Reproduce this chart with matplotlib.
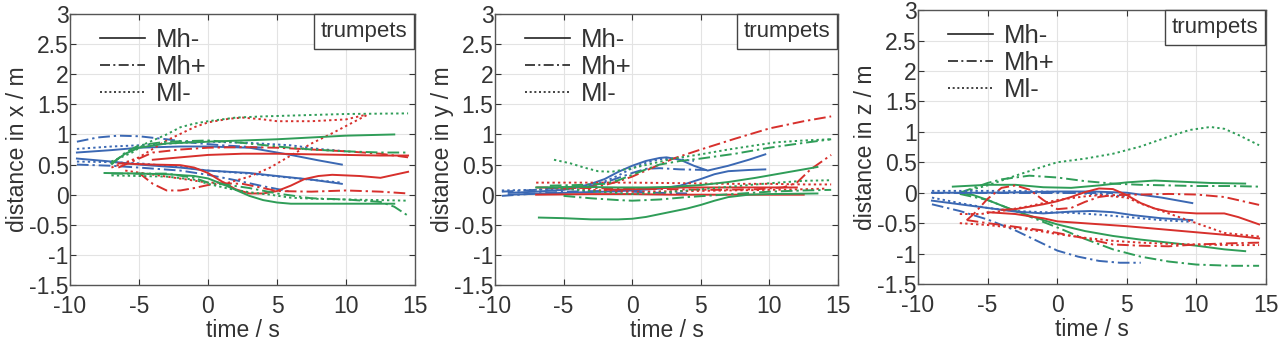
import matplotlib
matplotlib.use("Agg")
import matplotlib.pyplot as plt
from matplotlib.lines import Line2D

plt.rcParams['font.family'] = ['Liberation Sans', 'DejaVu Sans']
plt.rcParams['axes.unicode_minus'] = False

# condition labels and players
conditions = ['Mh-', 'Mh+', 'Ml-']
players = ['p1', 'p2', 'p3']

# each entry: (player, condition, time in s, distance in m)
x_series = [
    ('p3', 'Mh-', [-9.5, -7, -5, -2, 0, 3, 6, 8, 9.7], [0.70, 0.74, 0.78, 0.80, 0.80, 0.78, 0.66, 0.57, 0.50]),
    ('p3', 'Mh-', [-9.5, -7, -5, -2, 0, 3, 5, 7.5, 9.7], [0.60, 0.55, 0.50, 0.45, 0.40, 0.36, 0.31, 0.25, 0.18]),
    ('p3', 'Mh+', [-9.5, -8, -6.5, -5, -3, -1, 1, 4], [0.88, 0.95, 0.98, 0.97, 0.92, 0.86, 0.82, 0.78]),
    ('p3', 'Mh+', [-9.5, -7, -5, -2, 0, 2, 4, 6], [0.50, 0.48, 0.45, 0.40, 0.33, 0.24, 0.14, 0.05]),
    ('p3', 'Ml-', [-9.5, -7, -5, -2, 0, 3, 6, 8, 10], [0.76, 0.80, 0.82, 0.86, 0.88, 0.86, 0.82, 0.76, 0.72]),
    ('p3', 'Ml-', [-9.5, -7, -5, -2, 0, 3, 6, 9.7], [0.55, 0.54, 0.52, 0.46, 0.40, 0.35, 0.28, 0.20]),
    ('p1', 'Mh-', [-4, -2, 0, 2.5, 5, 7.5, 10, 12.5, 14.5], [0.58, 0.62, 0.66, 0.68, 0.68, 0.67, 0.66, 0.65, 0.65]),
    ('p1', 'Mh-', [-6.5, -4, -2, -1, 0, 1, 2, 3, 4, 5, 6, 7, 8, 9, 11, 12.5, 14.5],
     [0.52, 0.50, 0.49, 0.45, 0.36, 0.22, 0.09, 0.02, 0.02, 0.06, 0.15, 0.26, 0.31, 0.33, 0.31, 0.28, 0.38]),
    ('p1', 'Mh+', [-5, -4, -3, -2, -1, 0, 1, 2.5, 4, 5, 7.5, 10, 12.5, 14.5],
     [0.36, 0.18, 0.07, 0.07, 0.11, 0.16, 0.19, 0.18, 0.11, 0.06, 0.05, 0.07, 0.05, 0.02]),
    ('p1', 'Mh+', [-6.5, -5, -4, -2, 0, 2.5, 5, 7.5, 10, 12.5, 14.5], [0.45, 0.60, 0.70, 0.75, 0.78, 0.79, 0.78, 0.75, 0.72, 0.68, 0.62]),
    ('p1', 'Ml-', [-7, -5, -3, -1, 0, 1.5, 2.5, 4, 5, 7.5, 10, 11.5],
     [0.45, 0.62, 0.90, 1.12, 1.20, 1.26, 1.28, 1.25, 1.22, 1.22, 1.25, 1.33]),
    ('p1', 'Ml-', [-6, -3, 0, 1.5, 3, 4.5, 6, 7.5, 9, 10.5, 11.5],
     [0.40, 0.30, 0.20, 0.20, 0.30, 0.45, 0.65, 0.85, 1.02, 1.20, 1.32]),
    ('p2', 'Mh-', [-7, -6, -5, -3, 0, 2.5, 5, 7.5, 10, 13.5], [0.52, 0.68, 0.78, 0.85, 0.88, 0.90, 0.92, 0.95, 0.98, 1.00]),
    ('p2', 'Mh-', [-7.5, -5, -3, -1, 0, 1, 2, 3, 4, 5, 6, 8, 10, 13.5],
     [0.36, 0.35, 0.34, 0.31, 0.27, 0.18, 0.08, -0.02, -0.09, -0.13, -0.15, -0.15, -0.15, -0.15]),
    ('p2', 'Mh+', [-7, -6, -5, -3, 0, 2.5, 5, 7.5, 10, 12.5, 14.5], [0.50, 0.70, 0.82, 0.88, 0.90, 0.86, 0.80, 0.75, 0.72, 0.70, 0.70]),
    ('p2', 'Mh+', [-7, -5, -3, -1, 0, 1.5, 3, 5, 7.5, 10, 12.5, 13.5, 14.5],
     [0.35, 0.35, 0.35, 0.28, 0.20, 0.16, 0.11, 0.02, -0.06, -0.08, -0.12, -0.20, -0.35]),
    ('p2', 'Ml-', [-7, -5.5, -4.5, -3, -2, -1, 0, 2, 4, 7, 10, 14.5],
     [0.55, 0.70, 0.85, 1.00, 1.12, 1.18, 1.22, 1.28, 1.30, 1.32, 1.34, 1.35]),
    ('p2', 'Ml-', [-7, -5, -3, -1, 0, 1.5, 3, 4.5, 6, 8, 10, 12.5, 14.5],
     [0.32, 0.31, 0.30, 0.25, 0.18, 0.10, 0.04, 0.00, -0.05, -0.07, -0.08, -0.09, -0.10]),
]

y_series = [
    ('p3', 'Mh-', [-9, -7, -5, -4, -3, -2, -1, 0, 1, 2, 2.5, 3.5, 4.5, 5.5, 7, 8.5, 9.7],
     [0.03, 0.05, 0.08, 0.12, 0.18, 0.26, 0.38, 0.48, 0.56, 0.61, 0.62, 0.58, 0.48, 0.40, 0.48, 0.58, 0.67]),
    ('p3', 'Mh-', [-9, -5, -2, 0, 2, 3.5, 5, 6, 7, 8.5, 9.7], [0.00, 0.03, 0.05, 0.07, 0.10, 0.15, 0.26, 0.34, 0.39, 0.41, 0.42]),
    ('p3', 'Mh+', [-9.5, -7, -5, -3, -2, -1, 0, 1, 2, 3.5, 5.5], [0.05, 0.08, 0.12, 0.15, 0.20, 0.28, 0.36, 0.43, 0.44, 0.42, 0.41]),
    ('p3', 'Mh+', [-9.5, -7, -5, -2.5, 0, 2, 4], [-0.02, 0.02, 0.05, 0.06, 0.05, 0.03, 0.02]),
    ('p3', 'Ml-', [-9.5, -7, -5, -3, -2, -1, 0, 1, 2, 3, 4.5], [0.07, 0.08, 0.10, 0.16, 0.22, 0.32, 0.44, 0.53, 0.59, 0.60, 0.56]),
    ('p1', 'Mh+', [-5, -3, -2, -1, 0, 1.5, 3, 5, 7.5, 10, 12.5, 14.5], [0.10, 0.13, 0.16, 0.22, 0.30, 0.45, 0.60, 0.75, 0.93, 1.10, 1.22, 1.30]),
    ('p1', 'Mh+', [-7, -3, 0, 3, 6, 9, 11, 12, 13, 14.5], [0.12, 0.11, 0.10, 0.09, 0.08, 0.09, 0.12, 0.20, 0.42, 0.66]),
    ('p1', 'Mh-', [-7, -3, 0, 3, 6, 9, 12.5], [0.00, 0.01, 0.01, 0.00, 0.00, 0.00, 0.00]),
    ('p1', 'Mh-', [-2, 0, 2, 4, 6, 8, 10, 12], [0.08, 0.09, 0.11, 0.12, 0.12, 0.12, 0.12, 0.12]),
    ('p1', 'Ml-', [-7, -4, 0, 4, 7, 10, 12.5, 14.5], [0.20, 0.20, 0.20, 0.19, 0.18, 0.18, 0.17, 0.17]),
    ('p1', 'Ml-', [-6, -3, 0, 4, 7, 10, 12.5, 14], [0.11, 0.08, 0.05, 0.06, 0.07, 0.08, 0.09, 0.10]),
    ('p2', 'Mh-', [-6.8, -5, -3, -1, 0, 1, 2.5, 4, 5, 6, 7, 8.5, 10, 13.5],
     [-0.38, -0.39, -0.41, -0.41, -0.40, -0.37, -0.30, -0.23, -0.17, -0.10, -0.04, 0.00, 0.01, 0.02]),
    ('p2', 'Mh-', [-7, -4, -1, 1, 3, 5, 7, 9, 11, 13.5], [0.12, 0.13, 0.12, 0.12, 0.13, 0.16, 0.21, 0.28, 0.36, 0.46]),
    ('p2', 'Mh+', [-6, -4, -2, -1, 0, 1, 2, 3.5, 5, 7.5, 10, 12.5, 14.5], [0.15, 0.16, 0.18, 0.24, 0.33, 0.42, 0.50, 0.56, 0.60, 0.68, 0.78, 0.86, 0.92]),
    ('p2', 'Mh+', [-5, -3, -1, 0, 2, 4, 6, 8, 10, 12.5, 14.5], [-0.02, -0.06, -0.09, -0.10, -0.08, -0.04, -0.01, 0.02, 0.05, 0.07, 0.08]),
    ('p2', 'Ml-', [-5.7, -4.5, -3.5, -2.5, -1.5, 0, 1.5, 3, 5, 7, 9, 10.5, 12.5, 14.5],
     [0.58, 0.52, 0.45, 0.39, 0.38, 0.44, 0.52, 0.60, 0.67, 0.75, 0.82, 0.87, 0.90, 0.92]),
    ('p2', 'Ml-', [-6, -3, 0, 2.5, 5, 7.5, 10, 12.5, 14.5], [0.12, 0.06, 0.01, 0.04, 0.09, 0.14, 0.19, 0.23, 0.24]),
]

z_series = [
    ('p2', 'Ml-', [-7, -5, -3, -1, 0, 2, 4, 6, 8, 9.5, 11, 12, 13, 14.5],
     [0.00, 0.12, 0.28, 0.43, 0.50, 0.56, 0.64, 0.76, 0.92, 1.03, 1.08, 1.05, 0.95, 0.78]),
    ('p2', 'Mh+', [-7, -6, -5, -4, -2, 0, 2, 4, 6, 8, 10, 12.5, 14.5],
     [0.00, 0.08, 0.16, 0.22, 0.28, 0.25, 0.19, 0.15, 0.13, 0.12, 0.11, 0.11, 0.10]),
    ('p2', 'Mh-', [-7.5, -5, -3, -1, 1, 3, 5, 7, 9, 11, 13.5], [0.10, 0.13, 0.13, 0.09, 0.08, 0.12, 0.17, 0.20, 0.18, 0.16, 0.15]),
    ('p2', 'Mh-', [-7, -6, -5, -3, -1, 0, 2, 4, 6, 8, 10, 12, 13.5],
     [0.00, -0.04, -0.12, -0.30, -0.45, -0.52, -0.63, -0.71, -0.77, -0.82, -0.87, -0.93, -0.96]),
    ('p2', 'Mh+', [-7, -5, -3, -1, 0, 2, 4, 6, 8, 10, 12.5, 14.5],
     [-0.02, -0.12, -0.30, -0.48, -0.57, -0.76, -0.93, -1.05, -1.13, -1.18, -1.20, -1.20]),
    ('p3', 'Mh-', [-9, -7, -5, -2, 0, 2.5, 5, 7.5, 9.7], [0.00, 0.00, 0.00, 0.01, 0.02, 0.02, 0.00, -0.08, -0.17]),
    ('p3', 'Mh-', [-9, -7, -5, -3, -1, 1, 2.5, 4, 5.5, 7.5, 9.7], [-0.13, -0.19, -0.25, -0.31, -0.34, -0.31, -0.30, -0.32, -0.37, -0.42, -0.45]),
    ('p3', 'Mh+', [-9, -7, -5, -3, -1, 0, 1.5, 3, 4.5, 6], [-0.19, -0.30, -0.44, -0.62, -0.84, -0.95, -1.05, -1.12, -1.15, -1.15]),
    ('p3', 'Mh+', [-9, -6, -3, 0, 2, 4], [0.00, 0.00, 0.00, 0.00, 0.00, 0.00]),
    ('p3', 'Ml-', [-9, -6, -3, -1, 1, 3, 5], [0.03, 0.03, 0.03, 0.02, 0.00, -0.03, -0.06]),
    ('p3', 'Ml-', [-9, -7, -5, -3, -1, 1, 3, 5, 7.5, 9.7], [-0.08, -0.17, -0.25, -0.30, -0.32, -0.33, -0.36, -0.40, -0.45, -0.48]),
    ('p1', 'Mh-', [-4, -3, -2, -1, 0, 1, 2, 3, 4, 5, 6, 7, 8, 10, 12, 13, 14.5],
     [-0.28, -0.27, -0.23, -0.19, -0.14, -0.07, 0.01, 0.07, 0.06, -0.04, -0.17, -0.26, -0.31, -0.34, -0.34, -0.40, -0.52]),
    ('p1', 'Mh-', [-5, -3, -1, 0, 2.5, 5, 7.5, 10, 12.5, 14.5], [-0.32, -0.35, -0.42, -0.47, -0.51, -0.55, -0.60, -0.65, -0.70, -0.75]),
    ('p1', 'Mh+', [-6.5, -6, -5, -4, -3, -2, -1, 0, 1, 2, 3, 4, 6, 8, 10, 12, 14.5],
     [-0.45, -0.35, -0.10, 0.08, 0.12, 0.05, -0.12, -0.27, -0.25, -0.15, -0.07, -0.04, -0.03, -0.02, -0.03, -0.07, -0.20]),
    ('p1', 'Mh+', [-6.5, -5, -3, -1, 0, 2, 4, 6, 8, 10, 12.5, 14.5], [-0.45, -0.50, -0.56, -0.62, -0.66, -0.75, -0.85, -0.87, -0.88, -0.85, -0.83, -0.82]),
    ('p1', 'Ml-', [-7, -5.5, -4, -2, 0, 2, 3, 5, 6, 7.5, 9, 10, 11, 12, 14.5],
     [-0.35, -0.35, -0.30, -0.22, -0.12, -0.06, -0.04, -0.08, -0.18, -0.30, -0.42, -0.50, -0.58, -0.66, -0.72]),
    ('p1', 'Ml-', [-7, -5, -3, -1, 0, 2, 4, 6, 8, 10, 12.5, 14.5], [-0.50, -0.53, -0.58, -0.64, -0.68, -0.74, -0.79, -0.82, -0.84, -0.85, -0.86, -0.86]),
]

x_ticks = [-10, -5, 0, 5, 10, 15]
y_ticks = [-1.5, -1, -0.5, 0, 0.5, 1, 1.5, 2, 2.5, 3]
y_tick_labels = ['-1.5', '-1', '-0.5', '0', '0.5', '1', '1.5', '2', '2.5', '3']

colours = {'p1': '#d7302c', 'p2': '#2f9d58', 'p3': '#3b68b3'}
styles = {'Mh-': '-', 'Mh+': (0, (6, 2, 1.2, 2)), 'Ml-': (0, (1.2, 1.6))}

panels = [
    (x_series, 'distance in x / m', [0.0547, 0.1642, 0.2695, 0.7947]),
    (y_series, 'distance in y / m', [0.3867, 0.1642, 0.2680, 0.7947]),
    (z_series, 'distance in z / m', [0.7172, 0.1670, 0.2719, 0.8035]),
]

fig = plt.figure(figsize=(12.8, 3.41), dpi=100)

for series, ylabel, pos in panels:
    ax = fig.add_axes(pos)
    for player, cond, t, d in series:
        ax.plot(t, d, color=colours[player], linestyle=styles[cond], linewidth=1.4)
    ax.set_xlim(-10, 15)
    ax.set_ylim(-1.5, 3)
    ax.set_xticks(x_ticks)
    ax.set_xticklabels([str(v) for v in x_ticks])
    ax.set_yticks(y_ticks)
    ax.set_yticklabels(y_tick_labels)
    ax.grid(True, color='#e3e3e3', linewidth=0.8)
    ax.set_axisbelow(True)
    ax.tick_params(direction='in', labelsize=16.5, length=4, width=0.8,
                   colors='#333333', top=True, right=True)
    ax.tick_params(axis='x', pad=7)
    ax.tick_params(axis='y', pad=1)
    for s in ax.spines.values():
        s.set_color('#555555')
        s.set_linewidth(1.0)
    ax.set_xlabel('time / s', fontsize=16.5, color='#333333', labelpad=1)
    ax.set_ylabel(ylabel, fontsize=16.5, color='#333333', labelpad=0)

    handles = [Line2D([], [], color='#222222', linestyle=styles[c], linewidth=1.2) for c in conditions]
    ax.legend(handles, conditions, loc='upper left', bbox_to_anchor=(0.045, 1.0),
              frameon=False, fontsize=18.5, handlelength=1.75, labelspacing=0.12,
              handletextpad=0.45, borderaxespad=0.15, labelcolor='#333333')
    ax.annotate('trumpets', xy=(1, 1), xycoords='axes fraction',
                xytext=(-5.5, -5), textcoords='offset points', ha='right', va='top',
                fontsize=16, color='#333333',
                bbox=dict(boxstyle='square,pad=0.3', facecolor='white', edgecolor='#444444', linewidth=1.0))

fig.savefig('out.png', dpi=100)
